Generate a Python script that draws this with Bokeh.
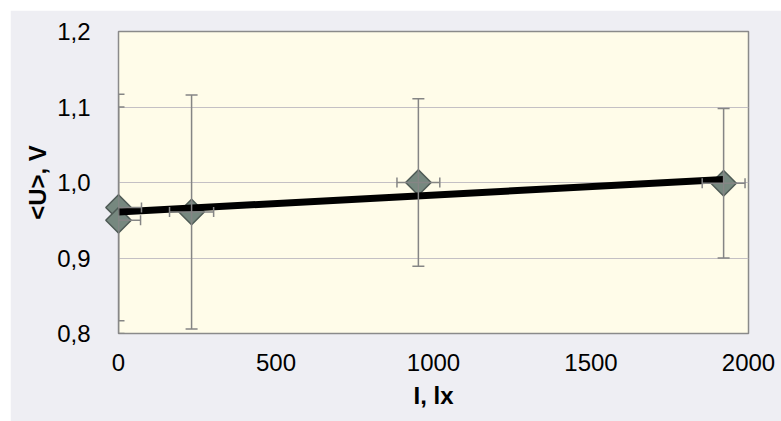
from bokeh.plotting import figure
from bokeh.models import ColumnDataSource, Whisker, TeeHead, Range1d, FixedTicker, CustomJSTickFormatter
from bokeh.embed import file_html
from bokeh.resources import INLINE
import numpy as np

# data
illum = [0, 0, 232, 952, 1921]
voltage = [0.967, 0.950, 0.961, 1.000, 0.999]
volt_err = [0.150, 0.150, 0.155, 0.111, 0.099]
illum_err = [73, 70, 70, 68, 68]
fit_x = [0, 1921]
fit_y = [0.961, 1.004]
x_ticks = [0, 500, 1000, 1500, 2000]
y_ticks = [0.8, 0.9, 1.0, 1.1, 1.2]

FONT = "Liberation Sans"

p = figure(width=771, height=411, output_backend="svg", toolbar_location=None,
           x_range=Range1d(0, 2000), y_range=Range1d(0.8, 1.2),
           min_border_left=108, min_border_right=33, min_border_top=21, min_border_bottom=88)
p.margin = (10, 0, 0, 10)
p.background_fill_color = "#FFFCE9"
p.border_fill_color = "#EEEEF3"
p.outline_line_color = "#8A8A8A"
p.outline_line_width = 1.5

p.xgrid.grid_line_color = None
p.ygrid.grid_line_color = "#C4C0C4"
p.ygrid.grid_line_width = 1

p.xaxis.ticker = FixedTicker(ticks=x_ticks)
p.yaxis.ticker = FixedTicker(ticks=y_ticks)
p.yaxis.formatter = CustomJSTickFormatter(code="return tick.toFixed(1).replace('.', ',');")

for ax in (p.xaxis, p.yaxis):
    ax.axis_line_color = None
    ax.major_tick_line_color = None
    ax.minor_tick_line_color = None
    ax.major_label_text_font = FONT
    ax.major_label_text_font_size = "24px"
    ax.major_label_text_color = "#000000"
    ax.axis_label_text_font = FONT
    ax.axis_label_text_font_size = "24px"
    ax.axis_label_text_font_style = "bold"
    ax.axis_label_text_color = "#000000"

p.xaxis.axis_label = "I, lx"
p.yaxis.axis_label = "<U>, V"
p.xaxis.major_label_standoff = 14
p.yaxis.major_label_standoff = 22
p.xaxis.axis_label_standoff = 8
p.yaxis.axis_label_standoff = 3

iu = np.array(illum, dtype=float)
vu = np.array(voltage)
src = ColumnDataSource(dict(
    x=iu, y=vu,
    ylo=vu - np.array(volt_err), yhi=vu + np.array(volt_err),
    xlo=iu - np.array(illum_err), xhi=iu + np.array(illum_err),
))

ERR = "#858585"
vw = Whisker(source=src, base="x", lower="ylo", upper="yhi", dimension="height",
             line_color=ERR, line_width=1.5, level="overlay",
             lower_head=TeeHead(size=12, line_color=ERR, line_width=1.5),
             upper_head=TeeHead(size=12, line_color=ERR, line_width=1.5))
hw = Whisker(source=src, base="y", lower="xlo", upper="xhi", dimension="width",
             line_color=ERR, line_width=1.5, level="overlay",
             lower_head=TeeHead(size=10, line_color=ERR, line_width=1.5),
             upper_head=TeeHead(size=10, line_color=ERR, line_width=1.5))
p.add_layout(vw)
p.add_layout(hw)

p.scatter("x", "y", source=src, marker="square", angle=np.pi / 4, size=18,
          fill_color="#76887F", line_color="#4E5A55", line_width=1.5, level="overlay")

p.line(fit_x, fit_y, line_color="#000000", line_width=7, level="overlay")

open("out.html", "w").write(file_html(p, INLINE))
